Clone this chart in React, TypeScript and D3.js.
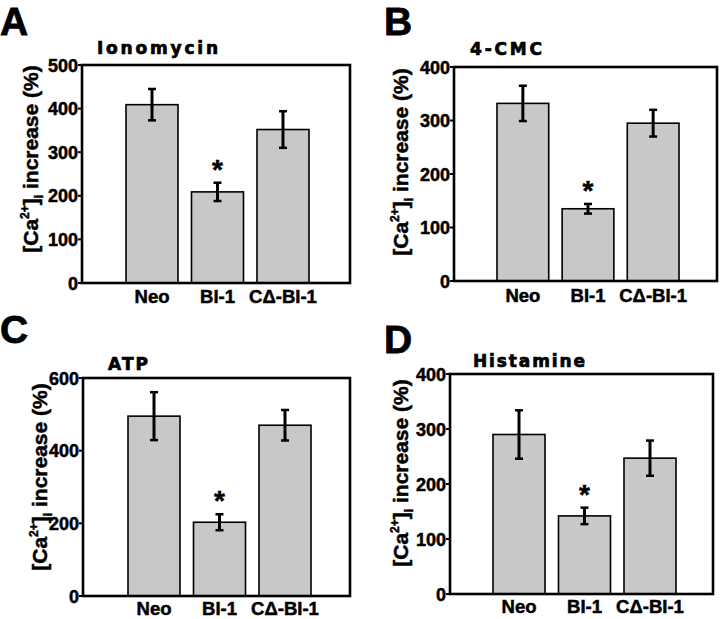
import React from "react";
import * as d3 from "d3";

const categories = ["Neo", "BI-1", "CΔ-BI-1"];
const panelLetters = ["A", "B", "C", "D"];
const panelTitles = ["Ionomycin", "4-CMC", "ATP", "Histamine"];

const ionomycinMean = [409, 209, 352];
const ionomycinErr = [36, 21, 42];
const cmcMean = [332, 135, 295];
const cmcErr = [33, 9, 25];
const atpMean = [495, 203, 470];
const atpErr = [66, 22, 42];
const histamineMean = [290, 142, 247];
const histamineErr = [44, 15, 32];

const yTicksA = [0, 100, 200, 300, 400, 500];
const yTicksB = [0, 100, 200, 300, 400];
const yTicksC = [0, 200, 400, 600];
const yTicksD = [0, 100, 200, 300, 400];

const significant = [false, true, false];

const means = [ionomycinMean, cmcMean, atpMean, histamineMean];
const errs = [ionomycinErr, cmcErr, atpErr, histamineErr];
const ticks = [yTicksA, yTicksB, yTicksC, yTicksD];

// layout (pixels) per panel
const layouts = [
  { box: [82, 65, 350, 283], bars: [126, 309], letter: [0, 35], title: [97, 54, 121], ylab: [38, 159], cat: 303 },
  { box: [454, 67, 717, 281], bars: [497, 679], letter: [384, 35], title: [470, 55, 72], ylab: [408, 162], cat: 302 },
  { box: [83, 378, 350, 596], bars: [128, 311], letter: [0, 343], title: [108, 370, 40], ylab: [47, 477], cat: 615 },
  { box: [450, 374, 713, 594], bars: [493, 676], letter: [384, 353], title: [473, 367, 112], ylab: [408, 473], cat: 613 },
];

const FONT = "'Liberation Sans', Arial, sans-serif";
const HEAVY = "'DejaVu Sans', 'Liberation Sans', sans-serif";

function Panel({ idx }: { idx: number }) {
  const L = layouts[idx];
  const [bl, bt, br, bb] = L.box;
  const tk = ticks[idx];
  const y = d3.scaleLinear().domain([0, d3.max(tk) as number]).range([bb, bt]);
  const x = d3
    .scaleBand<string>()
    .domain(categories)
    .range([L.bars[0], L.bars[1]])
    .paddingInner(0.206)
    .paddingOuter(0);
  const m = means[idx];
  const e = errs[idx];
  const bw = x.bandwidth();
  return (
    <g>
      <text x={L.letter[0]} y={L.letter[1]} fontFamily={FONT} fontWeight="bold" fontSize={39} stroke="#000" strokeWidth={0.8}>
        {panelLetters[idx]}
      </text>
      <text
        x={L.title[0]}
        y={L.title[1]}
        fontFamily={HEAVY}
        fontWeight="bold"
        fontSize={17}
        stroke="#000"
        strokeWidth={0.7}
        textLength={L.title[2]}
        lengthAdjust="spacing"
      >
        {panelTitles[idx]}
      </text>
      {categories.map((c, i) => {
        const x0 = x(c) as number;
        const cx = x0 + bw / 2;
        const top = y(m[i] + e[i]);
        const bot = y(m[i] - e[i]);
        return (
          <g key={c}>
            <rect x={x0} y={y(m[i])} width={bw} height={bb - y(m[i])} fill="#c8c8c8" stroke="#000" strokeWidth={1.6} />
            <line x1={cx} x2={cx} y1={top} y2={bot} stroke="#000" strokeWidth={3} />
            <line x1={cx - 4} x2={cx + 4} y1={top} y2={top} stroke="#000" strokeWidth={2.5} />
            <line x1={cx - 4} x2={cx + 4} y1={bot} y2={bot} stroke="#000" strokeWidth={2.5} />
            {significant[i] && (
              <text x={cx} y={top - 19 + 15} textAnchor="middle" fontFamily={FONT} fontWeight="bold" fontSize={28} stroke="#000" strokeWidth={0.5}>
                *
              </text>
            )}
            <text x={cx} y={L.cat} textAnchor="middle" fontFamily={FONT} fontWeight="bold" fontSize={18.5} stroke="#000" strokeWidth={0.5}>
              {c}
            </text>
          </g>
        );
      })}
      <rect x={bl} y={bt} width={br - bl} height={bb - bt} fill="none" stroke="#000" strokeWidth={2.6} />
      {tk.map((t) => (
        <g key={t}>
          <line x1={bl - 4} x2={bl} y1={y(t)} y2={y(t)} stroke="#000" strokeWidth={2} />
          <text
            x={bl - 4}
            y={y(t) + 6.5}
            textAnchor="end"
            fontFamily={FONT}
            fontWeight="bold"
            fontSize={18}
            stroke="#000"
            strokeWidth={0.5}
          >
            {t}
          </text>
        </g>
      ))}
      <text
        transform={`translate(${L.ylab[0]},${L.ylab[1]}) rotate(-90)`}
        textAnchor="middle"
        fontFamily={FONT}
        fontWeight="bold"
        fontSize={21}
        stroke="#000"
        strokeWidth={0.5}
      >
        <tspan>[Ca</tspan>
        <tspan fontSize={12} dy={-9}>2+</tspan>
        <tspan dy={9}>]</tspan>
        <tspan fontSize={12} dy={5}>i</tspan>
        <tspan dy={-5}> increase (%)</tspan>
      </text>
    </g>
  );
}

export default function App() {
  return (
    <svg width={720} height={619} style={{ display: "block", position: "absolute", left: 0, top: 0, background: "#fff" }}>
      <rect x={0} y={0} width={720} height={619} fill="#fff" />
      {[0, 1, 2, 3].map((i) => (
        <Panel key={i} idx={i} />
      ))}
    </svg>
  );
}
